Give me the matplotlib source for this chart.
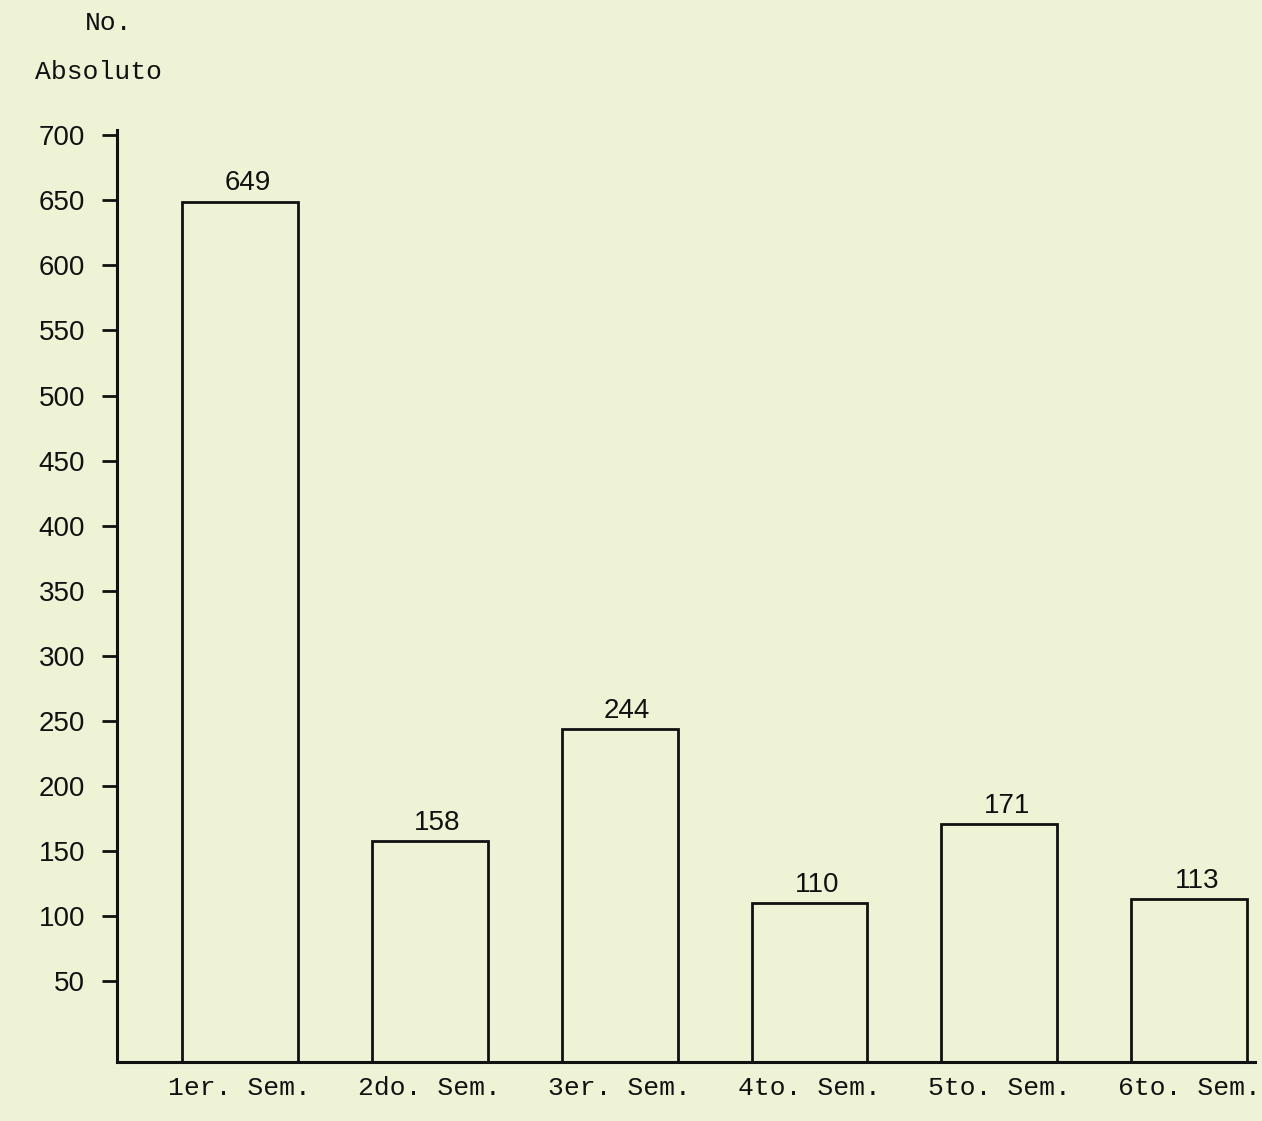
import matplotlib
matplotlib.use("Agg")
import matplotlib.pyplot as plt
import numpy as np

categories = ["1er. Sem.", "2do. Sem.", "3er. Sem.", "4to. Sem.", "5to. Sem.", "6to. Sem."]
values = [649, 158, 244, 110, 171, 113]
yticks = [50, 100, 150, 200, 250, 300, 350, 400, 450, 500, 550, 600, 650, 700]

BG = "#eef3d6"
INK = "#111111"
Y0 = -12

fig = plt.figure(figsize=(12.62, 11.21), dpi=100, facecolor=BG)
ax = fig.add_axes([117/1262, 1 - 1062/1121, 1138/1262, (1062 - 130)/1121])
ax.set_facecolor(BG)

x = np.arange(len(categories))
ax.bar(x, [v - Y0 for v in values], bottom=Y0, width=0.61,
       facecolor="none", edgecolor=INK, linewidth=2.0)

for xi, v in zip(x, values):
    ax.text(xi + 0.04, v + 4, str(v), ha="center", va="bottom",
            fontsize=20, family="Liberation Sans", color=INK)

ax.set_xlim(-0.647, 5.346)
ax.set_ylim(Y0, 704)
ax.set_yticks(yticks)
ax.set_yticklabels([str(t) for t in yticks], fontsize=20, family="Liberation Sans", color=INK)
ax.tick_params(axis="y", direction="out", length=11, width=2, color=INK, pad=12)
ax.set_xticks(x)
ax.set_xticklabels(categories, fontsize=19, family="Liberation Mono", color=INK)
ax.tick_params(axis="x", length=0, pad=10)

for s in ["top", "right"]:
    ax.spines[s].set_visible(False)
for s in ["left", "bottom"]:
    ax.spines[s].set_linewidth(2.2)
    ax.spines[s].set_color(INK)

fig.text(85/1262, 1 - 23/1121, "No.", ha="left", va="center",
         fontsize=19, family="Liberation Mono", color=INK)
fig.text(35/1262, 1 - 72/1121, "Absoluto", ha="left", va="center",
         fontsize=19, family="Liberation Mono", color=INK)

fig.savefig("out.png", dpi=100, facecolor=BG)
